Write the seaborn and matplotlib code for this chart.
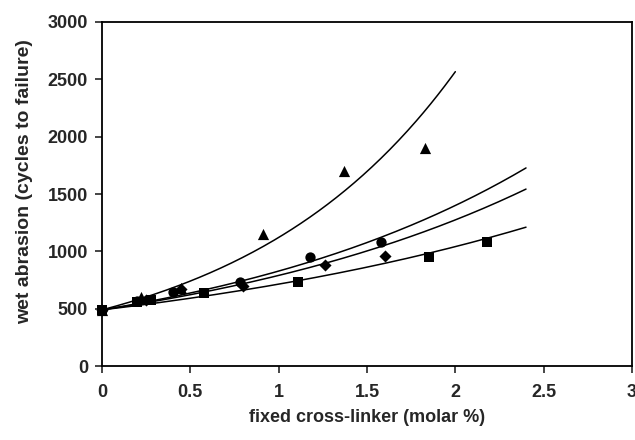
import numpy as np
import pandas as pd
import seaborn as sns
import matplotlib
matplotlib.use("Agg")
import matplotlib.pyplot as plt

# values
tri_x = [0, 0.22, 0.45, 0.91, 1.37, 1.83]
tri_y = [490, 600, 680, 1150, 1700, 1900]
circ_x = [0, 0.20, 0.40, 0.78, 1.18, 1.58]
circ_y = [490, 570, 650, 730, 950, 1080]
diam_x = [0, 0.25, 0.45, 0.80, 1.26, 1.60]
diam_y = [490, 580, 670, 700, 880, 960]
sq_x = [0, 0.20, 0.28, 0.58, 1.11, 1.85, 2.18]
sq_y = [490, 560, 580, 640, 730, 950, 1080]

# exponential trendlines y = a*exp(k*x), coefficients
trend_names = ["tri", "circ", "diam", "sq"]
trend_a = [490, 490, 490, 490]
trend_k = [0.828, 0.525, 0.478, 0.377]
trend_end = [2.0, 2.4, 2.4, 2.4]

series = {"tri": (tri_x, tri_y), "circ": (circ_x, circ_y),
          "diam": (diam_x, diam_y), "sq": (sq_x, sq_y)}
markers = {"tri": "^", "circ": "o", "diam": "D", "sq": "s"}
msize = {"tri": 65, "circ": 55, "diam": 38, "sq": 50}

pts = pd.concat([pd.DataFrame({"x": v[0], "y": v[1], "s": k}) for k, v in series.items()])

curves = []
for name, a, k, end in zip(trend_names, trend_a, trend_k, trend_end):
    xx = np.linspace(0, end, 200)
    curves.append(pd.DataFrame({"x": xx, "y": a * np.exp(k * xx), "s": name}))
curves = pd.concat(curves)

sns.set_style("ticks")
plt.rcParams["font.family"] = ["Liberation Sans", "DejaVu Sans"]
plt.rcParams["font.weight"] = "bold"

fig = plt.figure(figsize=(6.35, 4.4), dpi=100)
ax = fig.add_axes([0.1606, 0.168, 0.8347, 0.782])

sns.lineplot(data=curves, x="x", y="y", units="s", estimator=None, color="black",
             linewidth=1.1, ax=ax, legend=False)
for k in series:
    d = pts[pts["s"] == k]
    sns.scatterplot(data=d, x="x", y="y", marker=markers[k], s=msize[k], color="black",
                    edgecolor="black", linewidth=0, ax=ax, legend=False, zorder=3, clip_on=False)

ax.set_xlim(0, 3)
ax.set_ylim(0, 3000)
ax.set_xticks([0, 0.5, 1, 1.5, 2, 2.5, 3])
ax.set_xticklabels(["0", "0.5", "1", "1.5", "2", "2.5", "3"])
ax.set_yticks(range(0, 3001, 500))
ax.tick_params(direction="out", length=5, width=1.2, labelsize=13)
ax.tick_params(axis="y", pad=5)
ax.tick_params(axis="x", pad=8)
for lab in ax.get_xticklabels() + ax.get_yticklabels():
    lab.set_fontweight("bold")
for sp in ax.spines.values():
    sp.set_linewidth(1.3)
    sp.set_color("black")
ax.set_xlabel("fixed cross-linker (molar %)", fontsize=13, fontweight="bold", labelpad=6)
ax.set_ylabel("wet abrasion (cycles to failure)", fontsize=14, fontweight="bold",
              va="center")
ax.yaxis.set_label_coords(-0.147, 0.535)

fig.savefig("out.png", dpi=100)
